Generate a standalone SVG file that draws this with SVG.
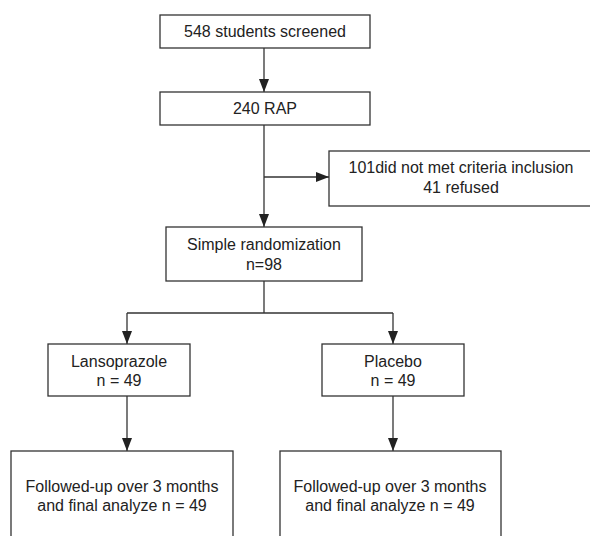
<svg xmlns="http://www.w3.org/2000/svg" width="590" height="536" viewBox="0 0 590 536">
<style>
.box{fill:#fff;stroke:#333;stroke-width:1.3}
.t{font-family:"Liberation Sans",Arial,sans-serif;font-size:16px;fill:#222;text-anchor:middle}
.c{fill:none;stroke:#333;stroke-width:1.3}
</style>
<defs>
<marker id="ah" viewBox="0 0 13 10" refX="13" refY="5" markerWidth="13" markerHeight="10" markerUnits="userSpaceOnUse" orient="auto">
<path d="M0,0 L13,5 L0,10 Z" fill="#222"/>
</marker>
</defs>
<rect width="590" height="536" fill="#fff"/>
<g id="connectors">
<path class="c" d="M264,48 V92" marker-end="url(#ah)"/>
<path class="c" d="M264,125 V227" marker-end="url(#ah)"/>
<path class="c" d="M264,177 H329" marker-end="url(#ah)"/>
<path class="c" d="M264,281 V313"/>
<path class="c" d="M127,313 H393"/>
<path class="c" d="M127,313 V344" marker-end="url(#ah)"/>
<path class="c" d="M393,313 V344" marker-end="url(#ah)"/>
<path class="c" d="M127,396 V451" marker-end="url(#ah)"/>
<path class="c" d="M393,396 V451" marker-end="url(#ah)"/>
</g>
<g id="screened">
<rect class="box" x="160" y="15" width="210" height="33"/>
<text class="t" x="265" y="37">548 students screened</text>
</g>
<g id="rap">
<rect class="box" x="160" y="92" width="210" height="33"/>
<text class="t" x="265" y="114">240 RAP</text>
</g>
<g id="excluded">
<rect class="box" x="329" y="151" width="265" height="55"/>
<text class="t" x="461" y="173">101did not met criteria inclusion</text>
<text class="t" x="461" y="193">41 refused</text>
</g>
<g id="randomization">
<rect class="box" x="166" y="227" width="196" height="54"/>
<text class="t" x="264" y="250">Simple randomization</text>
<text class="t" x="264" y="270">n=98</text>
</g>
<g id="lansoprazole">
<rect class="box" x="48" y="344" width="142" height="52"/>
<text class="t" x="119" y="367">Lansoprazole</text>
<text class="t" x="119" y="386">n = 49</text>
</g>
<g id="placebo">
<rect class="box" x="322" y="344" width="142" height="52"/>
<text class="t" x="393" y="367">Placebo</text>
<text class="t" x="393" y="386">n = 49</text>
</g>
<g id="followup-lanso">
<rect class="box" x="11" y="451" width="222" height="90"/>
<text class="t" x="122" y="492">Followed-up over 3 months</text>
<text class="t" x="122" y="511">and final analyze n = 49</text>
</g>
<g id="followup-placebo">
<rect class="box" x="280" y="451" width="221" height="90"/>
<text class="t" x="390" y="492">Followed-up over 3 months</text>
<text class="t" x="390" y="511">and final analyze n = 49</text>
</g>
</svg>
